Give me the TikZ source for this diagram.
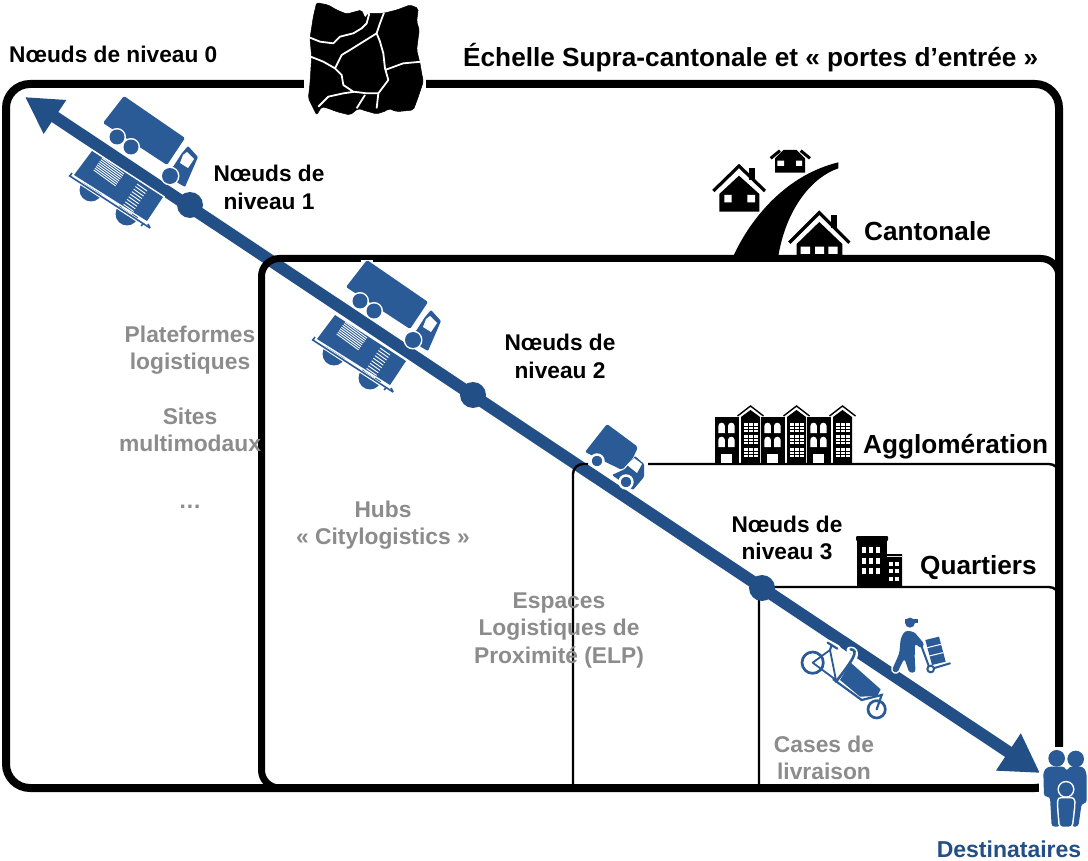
\documentclass[tikz,border=0pt]{standalone}
\usepackage{fontspec}
\setmainfont{Liberation Sans}
\usetikzlibrary{arrows.meta}
\definecolor{arrowblue}{HTML}{214F86}
\definecolor{iconblue}{HTML}{2A5B96}
\definecolor{greytext}{HTML}{8C8C8C}
\tikzset{
  x=1pt,y=-1pt,
  frame/.style={draw=black,line width=8pt},
  thinframe/.style={draw=black,line width=2.4pt,rounded corners=10pt},
  lab/.style={font=\bfseries\fontsize{22.7}{27.5}\selectfont,align=center,text=black,inner sep=0pt},
  big/.style={font=\bfseries\fontsize{26.2}{30}\selectfont,text=black,inner sep=0pt},
  grey/.style={font=\bfseries\fontsize{22.8}{27.5}\selectfont,align=center,text=greytext,inner sep=0pt},
  ico/.style={fill=iconblue,draw=none},
  halo/.style={preaction={draw=white,line width=#1,line join=round}},
  bigtruck/.pic={
    \path[ico,rounded corners=1.5pt] (103,123)--(124,96)--(185,138)--(167,165)--cycle;
    \path[ico,rounded corners=1pt] (173,167)--(182,153)--(188,146)--(198,157)--(185,187)--(178,183)--(165,172)--cycle;
    \path[fill=white] (183,155)--(187,152)--(194,159)--(188,168)--(180,163)--cycle;
    \path[ico,halo=3pt] (117,137) circle (7.5);
    \path[ico,halo=3pt] (131,147) circle (7.5);
    \path[ico,halo=3pt] (170,176) circle (8);
  },
  train/.pic={
    \path[ico] (91,190) circle (11.5) (127,214) circle (11.5);
    \draw[white,line width=3.4pt] (65,173)--(154,231);
    \draw[iconblue,line width=1.6pt] (69,175.5)--(150,228);
    \draw[iconblue,line width=1.6pt] (70,176)--(72,173) (150,228)--(148,224) (143,224)--(141,226);
    \path[fill=iconblue,preaction={draw=white,line width=3pt}] (92,151)--(163,197)--(147,221)--(74,175)--cycle;
    \foreach \t in {0,1,...,7}{
      \draw[white,line width=.9pt] ({102-\t*1.2},{158+\t*1.7})--({124-\t*1.2},{174+\t*1.7});
    }
    \foreach \t in {0,1,...,9}{
      \draw[white,line width=.9pt] ({137-\t*1.67},{184+\t*2.55})--({147-\t*1.67},{191+\t*2.55});
    }
  }
}
\begin{document}
\begin{tikzpicture}
\useasboundingbox (0,0) rectangle (1088,861);
\fill[white] (0,0) rectangle (1088,861);
% arrow of the main axis (under the frames)
\coordinate (tipA) at (25,97);
\coordinate (tipB) at (1040,773);
\draw[arrowblue,line width=12pt,{Triangle[length=36pt,width=38pt]}-{Triangle[length=38pt,width=42pt]}] (tipA)--(tipB);
% frames
\draw[frame,rounded corners=24pt] (6,84) rectangle (1059,788);
\draw[frame,line width=7pt,rounded corners=18pt] (1059,285)--(1059,258.5)--(261.5,258.5)--(261.5,788)--(1059,788);
\draw[thinframe] (573,785)--(573,464)--(588,464);
\draw[thinframe] (648,464)--(1059,464)--(1059,480);
\draw[thinframe] (1059,600)--(1059,587)--(759,587)--(759,785);
% map
\fill[white] (304,60) rectangle (426,100);
\begin{scope}[scale=1/3]
\path[fill=black,draw=black,line width=.5pt,rounded corners=2pt] (950,8)--(985,15)--(1010,30)--(1040,42)--(1085,30)--(1095,55)--(1105,40)--(1150,40)--(1190,30)--(1230,15)--(1255,25)--(1250,65)--(1258,90)--(1255,110)--(1250,150)--(1260,190)--(1265,220)--(1270,245)--(1255,290)--(1240,330)--(1190,335)--(1165,325)--(1160,332)--(1130,342)--(1095,332)--(1075,325)--(1050,345)--(1010,335)--(985,325)--(965,320)--(950,345)--(925,295)--(930,250)--(935,170)--(930,115)--(940,50)--cycle;
\draw[white,line width=1.8pt,line join=round]
 (930,113)--(960,125)--(1000,130)--(1020,110)--(1060,100)--(1085,85)--(1100,70)--(1108,40)
 (1152,38)--(1140,70)--(1130,100)--(1140,125)--(1150,160)--(1155,205)--(1165,240)--(1135,280)--(1130,325)
 (1130,100)--(1090,125)--(1050,150)--(1025,165)--(1005,205)--(1025,225)--(1030,255)--(1060,275)--(1100,280)--(1135,280)
 (932,170)--(970,185)--(1005,205)
 (1155,210)--(1210,190)--(1265,185)
 (955,320)--(985,290)--(1030,280)--(1065,275)
 (1095,285)--(1070,325);
\end{scope}
% cantonal icon: road and houses
\begin{scope}[shift={(680,130)},scale=1/3]
\fill[black] (160,378) .. controls (215,260) and (320,135) .. (475,97)--(475,115) .. controls (400,140) and (320,230) .. (295,378)--cycle;
\draw[line width=3.2pt,line join=miter] (100,183)--(177,108)--(255,183);
\fill (208,115) rectangle (225,150);
\fill (118,245)--(118,192)--(177,137)--(238,192)--(238,245)--cycle;
\fill[white] (133,195) rectangle (155,217) (202,195) rectangle (225,217);
\draw[line width=3pt] (272,85)--(300,62) (362,62)--(390,85);
\fill (285,128)--(285,85)--(310,60)--(350,60)--(375,85)--(375,128)--cycle;
\fill[white] (292,92) rectangle (312,108) (348,92) rectangle (366,108);
\fill[white] (300,372)--(310,340)--(418,230)--(530,340)--(530,372)--cycle;
\fill (453,255) rectangle (472,295);
\draw[line width=3.2pt] (328,338)--(418,248)--(508,338);
\fill (350,378)--(350,342)--(418,276)--(487,342)--(487,378)--cycle;
\fill[white] (362,350) rectangle (390,372) (405,350) rectangle (432,372) (445,350) rectangle (473,372);
\end{scope}
% agglomeration icon
\foreach \u in {0,46,92}{
\begin{scope}[shift={(715+\u,0)}]
\fill (0,417) rectangle (24.3,463);
\fill[white] (3.3,433) -- (3.3,426) arc[start angle=180,end angle=360,radius=3.3] -- (9.9,433)--cycle;
\fill[white] (13,433) -- (13,426) arc[start angle=180,end angle=360,radius=3.3] -- (19.6,433)--cycle;
\fill[white] (3.3,447) -- (3.3,440) arc[start angle=180,end angle=360,radius=3.3] -- (9.9,447)--cycle;
\fill[white] (13,447) -- (13,440) arc[start angle=180,end angle=360,radius=3.3] -- (19.6,447)--cycle;
\fill[white] (6,454) rectangle (17,463);
\fill (26,463)--(26,417)--(35.5,410)--(45,417)--(45,463)--cycle;
\draw[line width=1.4pt] (22.5,416)--(35.5,406)--(48.5,416);
\foreach \r in {423,435,448}{
  \fill[white] (28.5,\r) rectangle (42.5,\r+9);
  \draw[line width=.5pt] (33.3,\r)--(33.3,\r+9) (37.8,\r)--(37.8,\r+9) (28.5,\r+3)--(42.5,\r+3) (28.5,\r+6)--(42.5,\r+6);
}
\end{scope}}
% quartier building
\begin{scope}
\fill (857,587) rectangle (887,538);
\fill[rounded corners=1pt] (856,536) rectangle (888,541);
\fill (886,587) rectangle (902,556) (884,554) rectangle (902,557);
\foreach \i in {0,1,2}{\foreach \j in {0,1,2}{
  \fill[white] ({861.5+\i*7.2},{547+\j*10.5}) rectangle ({866+\i*7.2},{553+\j*10.5});}}
\foreach \i in {0,1}{\foreach \j in {0,1,2}{
  \fill[white] ({889+\i*6.2},{562+\j*7.3}) rectangle ({892.5+\i*6.2},{566+\j*7.3});}}
\end{scope}
% node dots
\node[circle,fill=arrowblue,minimum size=26pt,inner sep=0pt] (n1) at (190,205) {};
\node[circle,fill=arrowblue,minimum size=26pt,inner sep=0pt] (n2) at (473,395) {};
\node[circle,fill=arrowblue,minimum size=26pt,inner sep=0pt] (n3) at (762,588) {};
% vehicles
\pic at (0,0) {train};
\pic at (0,0) {bigtruck};
\pic at (243,164) {train};
\draw[white,line width=2pt] (361,261.5)--(373,261.5);
\pic at (243,164) {bigtruck};
% small truck
\path[ico,rounded corners=2pt] (585,452)--(607,424)--(638,447)--(633,458)--(622,470)--cycle;
\path[ico,rounded corners=1pt] (625,469)--(635,456)--(644,464)--(644,477)--(633,490)--(612,475)--cycle;
\fill[white] (627,465)--(634,458)--(642,464)--(637,473)--cycle;
\fill[iconblue,draw=white,line width=2.4pt] (597,461) circle (6.5);
\fill[iconblue,draw=white,line width=2.4pt] (626,482) circle (6.5);
% cargo bike and courier
\begin{scope}[shift={(750,600)},scale=1/3]
\draw[white,line width=7pt,line cap=round] (235,130)--(262,145) (300,150) .. controls (325,150) and (310,180) .. (295,205);
\draw[iconblue,line width=2.7pt] (188,188) circle (32);
\draw[iconblue,line width=2.7pt] (380,328) circle (26);
\draw[iconblue,line width=1.8pt,line cap=round] (188,188)--(240,150)--(258,240)--(188,188);
\draw[iconblue,line width=2.2pt,line cap=round] (233,128)--(262,146) (240,150)--(245,135);
\draw[iconblue,line width=2.6pt,line cap=round] (302,148) .. controls (328,150) and (310,178) .. (258,245);
\draw[iconblue,line width=2.2pt,line cap=round] (250,238)--(335,300)--(395,285)--(380,328);
\path[ico] (270,240)--(302,188)--(392,268)--(382,288)--(330,290)--cycle;
% courier
\fill[iconblue] (480,68) circle (15);
\fill[iconblue] (465,58) rectangle (505,68);
\path[fill=iconblue,halo=3pt,rounded corners=3pt] (465,92)--(492,95)--(524,133)--(514,146)--(495,130)--(494,175)--(497,217)--(478,219)--(463,175)--(441,220)--(425,212)--(448,160)--(452,115)--cycle;
\draw[iconblue,line width=2pt,line cap=round] (512,132)--(540,208)--(600,190);
\draw[iconblue,line width=2pt,fill=white] (542,207) circle (10);
\path[fill=iconblue] (526,120)--(567,110)--(587,185)--(546,195)--cycle;
\draw[white,line width=1pt] (532,143)--(573,133) (538,168)--(579,158);
\end{scope}
% family
\begin{scope}[shift={(750,600)},scale=1/3]
\fill[white] (875,442) rectangle (1015,530);
\fill[white] (868,500) rectangle (890,600);
\path[fill=iconblue] (920,475) circle (25);
\path[fill=iconblue] (977,477) circle (25);
\path[fill=iconblue,rounded corners=3pt] (880,515)--(893,500)--(945,500)--(950,515)--(957,500)--(1000,500)--(1010,520)--(1010,610)--(995,610)--(985,680)--(965,680)--(950,650)--(930,680)--(905,680)--(900,590)--(882,590)--cycle;
\path[fill=iconblue,preaction={draw=white,line width=3pt},rounded corners=3pt] (925,595)--(972,595)--(972,620)--(965,680)--(930,680)--(925,620)--cycle;
\path[fill=iconblue,preaction={draw=white,line width=3pt}] (948,568) circle (21);
\end{scope}
% labels
\node[lab,anchor=west] (l0) at (9,54) {Nœuds de niveau 0};
\node[big,anchor=west] (title) at (463,58) {Échelle Supra-cantonale et « portes d’entrée »};
\node[lab] (l1) at (269,187.5) {Nœuds de\\niveau 1};
\node[lab] (l2) at (560,356.5) {Nœuds de\\niveau 2};
\node[lab] (l3) at (787,538) {Nœuds de\\niveau 3};
\node[big,anchor=west] (cant) at (864,231) {Cantonale};
\node[big,anchor=west] (aggl) at (863,447) {Agglomération};
\node[big,anchor=west] (quart) at (920,568) {Quartiers};
\node[grey] (g1) at (190,350) {Plateformes\\logistiques};
\node[grey] (g2) at (190,430) {Sites\\multimodaux};
\node[grey] (g3) at (190,507) {…};
\node[grey] (g4) at (383,525) {Hubs\\«  Citylogistics »};
\node[grey] (g5) at (559,630.5) {Espaces\\Logistiques de\\Proximité (ELP)};
\node[grey] (g6) at (824,758) {Cases de\\livraison};
\node[lab,text=arrowblue,font=\bfseries\fontsize{23}{27}\selectfont] (dest) at (1009,849) {Destinataires};
\end{tikzpicture}
\end{document}
